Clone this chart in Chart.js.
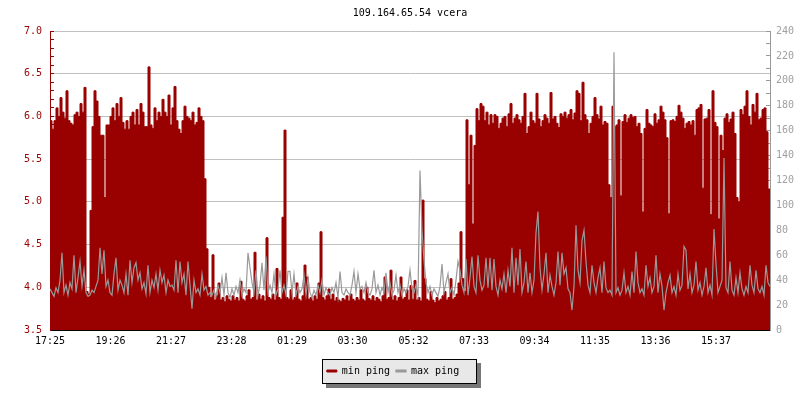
<!DOCTYPE html>
<html>
<head>
<meta charset="utf-8">
<script src="https://cdn.jsdelivr.net/npm/chart.js@4/dist/chart.umd.min.js"></script>
<style>
	body { margin: 0; background: #fff; }
	#wrap { width: 800px; height: 400px; }
</style>
</head>
<body>
<div id="wrap"><canvas id="chart" width="800" height="400"></canvas></div>
<script>
var title = '109.164.65.54 vcera';
var stepMinutes = 4;

// minutes after 17:25 where the time axis is labelled
var tickMinutes = [0, 121, 242, 363, 484, 605, 727, 848, 969, 1090, 1211, 1332];
var tickLabels = ['17:25', '19:26', '21:27', '23:28', '01:29', '03:30', '05:32', '07:33', '09:34', '11:35', '13:36', '15:37'];

// min ping (ms, left axis), one value every 4 minutes
var minPing = [
	5.95, 5.85, 5.95, 6.10, 6.00, 6.22, 6.05, 5.98, 6.30, 5.95, 5.92, 5.90, 6.02, 6.05, 6.00, 6.15, 6.05, 6.34, 3.95, 3.92,
	4.90, 5.88, 6.30, 6.18, 6.00, 5.78, 5.78, 5.05, 5.90, 5.90, 6.00, 6.10, 5.95, 6.15, 6.00, 6.22, 5.93, 5.85, 5.95, 5.85,
	6.00, 6.05, 5.90, 6.08, 5.90, 6.15, 6.05, 5.88, 5.88, 6.58, 5.90, 5.86, 6.10, 5.95, 6.05, 6.00, 6.20, 6.05, 6.00, 6.25,
	5.90, 6.10, 6.35, 5.95, 5.85, 5.80, 5.95, 6.12, 6.00, 5.98, 5.95, 6.05, 5.90, 5.93, 6.10, 6.00, 5.95, 5.27, 4.45, 4.00,
	3.88, 4.38, 3.85, 3.90, 4.05, 3.85, 3.88, 3.83, 3.90, 3.86, 3.84, 3.90, 3.85, 3.88, 3.84, 4.07, 3.86, 3.84, 3.90, 3.97,
	3.86, 3.88, 4.41, 3.85, 3.92, 3.86, 3.90, 3.84, 4.58, 3.88, 3.86, 3.92, 3.85, 4.22, 3.88, 3.86, 4.82, 5.84, 3.88, 3.86,
	3.97, 3.85, 3.88, 4.05, 3.86, 3.84, 3.90, 4.26, 4.12, 3.86, 3.88, 3.84, 3.90, 3.86, 4.05, 4.65, 3.88, 3.85, 3.90, 3.98,
	3.86, 3.92, 3.84, 3.88, 3.85, 3.83, 3.87, 3.85, 3.90, 3.84, 3.92, 3.86, 3.84, 3.88, 3.85, 3.97, 3.86, 3.84, 4.00, 3.87,
	3.85, 3.90, 3.84, 3.88, 3.86, 3.83, 3.90, 4.12, 3.86, 3.88, 4.20, 3.85, 3.90, 3.84, 3.88, 4.12, 3.86, 3.88, 3.97, 3.85,
	4.02, 3.86, 4.08, 3.85, 3.88, 3.84, 5.02, 4.10, 3.86, 3.84, 3.95, 3.85, 3.82, 3.88, 3.84, 3.86, 3.90, 3.95, 3.85, 3.88,
	4.10, 3.86, 3.88, 3.92, 4.05, 4.65, 4.10, 3.95, 5.96, 5.20, 5.78, 4.74, 5.66, 6.09, 5.95, 6.15, 6.12, 5.95, 6.05, 5.90,
	6.02, 5.92, 6.02, 6.00, 5.86, 5.92, 5.98, 6.00, 5.88, 6.03, 6.15, 5.92, 5.98, 6.02, 5.96, 5.92, 6.00, 6.27, 5.80, 5.88,
	6.05, 5.95, 5.92, 6.27, 5.97, 5.88, 5.95, 6.02, 5.98, 5.92, 6.28, 5.97, 6.00, 5.92, 5.87, 6.03, 6.00, 6.05, 5.98, 6.02,
	6.08, 5.96, 6.04, 6.30, 6.27, 5.95, 6.40, 6.02, 5.96, 5.80, 5.92, 6.00, 6.22, 6.02, 5.97, 6.12, 5.90, 5.94, 5.92, 5.20,
	5.05, 6.12, 5.88, 5.90, 5.96, 5.07, 5.94, 6.02, 5.93, 5.98, 6.02, 5.99, 6.00, 5.88, 5.92, 5.80, 4.88, 5.86, 6.08, 5.92,
	5.90, 5.88, 6.03, 5.92, 5.96, 6.12, 6.05, 5.96, 5.75, 4.86, 5.95, 5.96, 5.94, 6.00, 6.13, 6.05, 5.98, 5.86, 5.92, 5.94,
	5.90, 5.95, 5.78, 6.08, 6.10, 6.14, 5.16, 5.97, 5.98, 6.08, 4.85, 6.30, 5.93, 5.88, 4.80, 5.78, 5.60, 5.98, 6.03, 5.93,
	5.97, 6.05, 5.80, 5.05, 5.00, 6.08, 6.02, 6.12, 6.30, 6.00, 5.90, 6.14, 6.05, 6.27, 5.96, 5.98, 6.08, 6.10, 5.82, 5.15, 5.15
];

// max ping (ms, right axis), same sampling
var maxPing = [
	33, 30, 27, 34, 30, 40, 62, 30, 36, 28, 38, 33, 60, 30, 42, 55, 35, 48, 30, 27,
	28, 32, 30, 35, 40, 66, 45, 64, 35, 40, 30, 28, 45, 58, 32, 40, 36, 30, 45, 28,
	56, 38, 50, 54, 40, 46, 33, 38, 29, 52, 30, 40, 34, 45, 32, 48, 38, 44, 30, 40,
	35, 36, 32, 56, 30, 55, 38, 45, 28, 55, 36, 17, 40, 30, 33, 28, 45, 32, 35, 28,
	30, 28, 32, 27, 36, 30, 42, 28, 46, 30, 26, 33, 28, 35, 30, 40, 28, 33, 30, 62,
	50, 38, 30, 48, 28, 36, 54, 32, 59, 30, 36, 30, 45, 28, 33, 48, 30, 36, 28, 47,
	47, 30, 45, 28, 35, 30, 33, 44, 28, 42, 30, 26, 32, 28, 36, 30, 40, 28, 34, 30,
	28, 34, 30, 38, 26, 47, 30, 28, 33, 30, 28, 36, 47, 30, 45, 33, 35, 30, 38, 30,
	28, 33, 48, 30, 36, 28, 34, 30, 46, 30, 38, 28, 32, 44, 30, 36, 28, 33, 30, 35,
	48, 33, 30, 36, 28, 128, 80, 56, 38, 30, 35, 28, 33, 30, 27, 35, 53, 30, 38, 45,
	30, 34, 28, 40, 55, 48, 36, 30, 57, 28, 42, 59, 35, 30, 60, 40, 32, 36, 58, 34,
	58, 32, 57, 35, 28, 40, 33, 45, 30, 48, 35, 66, 30, 58, 36, 65, 30, 38, 55, 30,
	46, 30, 40, 78, 95, 50, 32, 45, 62, 30, 44, 35, 28, 38, 63, 36, 62, 45, 50, 33,
	30, 16, 35, 84, 48, 38, 72, 80, 55, 36, 30, 52, 38, 30, 42, 50, 30, 55, 34, 30,
	32, 28, 223, 30, 34, 28, 32, 46, 30, 35, 28, 47, 30, 63, 38, 30, 33, 28, 52, 35,
	42, 30, 35, 60, 30, 45, 35, 16, 30, 38, 44, 30, 35, 28, 45, 32, 36, 67, 64, 33,
	45, 30, 36, 55, 32, 38, 28, 35, 50, 30, 36, 28, 81, 53, 30, 35, 40, 138, 34, 30,
	55, 32, 28, 42, 30, 46, 33, 28, 35, 30, 52, 36, 30, 48, 33, 30, 35, 28, 52, 38, 35
];

var red = '#990000';
var grey = '#999999';
var font = { family: '"DejaVu Sans Mono", "Liberation Mono", monospace', size: 10, weight: 'normal' };

function toPoints(values) {
	return values.map(function (v, i) { return { x: i * stepMinutes, y: v }; });
}

function isMajor(v) {
	return Math.round(v * 10) % 5 === 0;
}

// nudge the legend a little left and draw its grey box with a drop shadow
var legendBox = {
	id: 'legendBox',
	afterLayout: function (chart) {
		if (!chart.legend) return;
		chart.legend.left -= 7;
		chart.legend.right -= 7;
	},
	beforeDraw: function (chart) {
		var boxes = chart.legend && chart.legend.legendHitBoxes;
		if (!boxes || !boxes.length) return;
		var first = boxes[0], last = boxes[boxes.length - 1];
		var left = Math.round(first.left) - 5;
		var right = Math.round(last.left + last.width) + 18;
		var top = Math.round(first.top) - 7;
		var bottom = Math.round(first.top + first.height) + 8;
		var ctx = chart.ctx;
		ctx.save();
		ctx.fillStyle = '#777777';
		ctx.fillRect(left + 4, top + 4, right - left, bottom - top);
		ctx.fillStyle = '#e8e8e8';
		ctx.fillRect(left, top, right - left, bottom - top);
		ctx.strokeStyle = '#000000';
		ctx.lineWidth = 1;
		ctx.strokeRect(left + 0.5, top + 0.5, right - left - 1, bottom - top - 1);
		ctx.restore();
	}
};

var context = document.getElementById('chart').getContext('2d');
var chart = new Chart(context, {
	type: 'line',
	data: {
		datasets: [{
			label: 'min ping',
			data: toPoints(minPing),
			yAxisID: 'y',
			stepped: true,
			fill: 'start',
			backgroundColor: red,
			borderColor: red,
			borderWidth: 1,
			pointRadius: 0,
			order: 1
		}, {
			label: 'max ping',
			data: toPoints(maxPing),
			yAxisID: 'y1',
			fill: false,
			backgroundColor: grey,
			borderColor: grey,
			borderWidth: 1.2,
			pointRadius: 0,
			tension: 0,
			order: 0
		}]
	},
	options: {
		responsive: false,
		animation: false,
		layout: { padding: { top: 0, left: 0, right: 0, bottom: 14 } },
		plugins: {
			title: {
				display: true,
				text: title,
				color: '#000',
				font: font,
				fullSize: false,
				padding: { top: 7, bottom: 12 }
			},
			legend: {
				position: 'bottom',
				reverse: true,
				labels: {
					color: '#000',
					font: font,
					boxWidth: 10,
					boxHeight: 2,
					padding: 6
				}
			},
			tooltip: { enabled: false }
		},
		scales: {
			x: {
				type: 'linear',
				min: 0,
				max: 1440,
				z: 1,
				afterBuildTicks: function (scale) {
					scale.ticks = tickMinutes.map(function (m) { return { value: m }; });
				},
				afterFit: function (scale) { scale.height = 30; },
				ticks: {
					autoSkip: false,
					maxRotation: 0,
					color: '#000',
					font: font,
					padding: 10,
					callback: function (value, index) { return tickLabels[index]; }
				},
				grid: { drawOnChartArea: false, tickLength: -5, color: '#000' },
				border: { color: '#000', width: 1 }
			},
			y: {
				position: 'left',
				min: 3.5,
				max: 7.0,
				afterFit: function (scale) { scale.width = 50; },
				ticks: {
					stepSize: 0.1,
					maxTicksLimit: 100,
					autoSkip: false,
					color: red,
					font: font,
					padding: 12,
					callback: function (value) { return isMajor(value) ? value.toFixed(1) : ''; }
				},
				grid: {
					tickLength: -4,
					tickColor: red,
					color: function (c) {
						var v = c.tick.value;
						return isMajor(v) && v > 3.55 ? '#c0c0c0' : 'rgba(0,0,0,0)';
					}
				},
				border: { color: red, width: 1 }
			},
			y1: {
				position: 'right',
				min: 0,
				max: 240,
				afterFit: function (scale) { scale.width = 30; },
				ticks: {
					stepSize: 10,
					maxTicksLimit: 100,
					autoSkip: false,
					color: '#a0a0a0',
					font: font,
					padding: 10,
					callback: function (value) { return value % 20 === 0 ? String(value) : ''; }
				},
				grid: { drawOnChartArea: false, tickLength: -4, color: grey },
				border: { color: grey, width: 1 }
			}
		}
	},
	plugins: [legendBox]
});
</script>
</body>
</html>
